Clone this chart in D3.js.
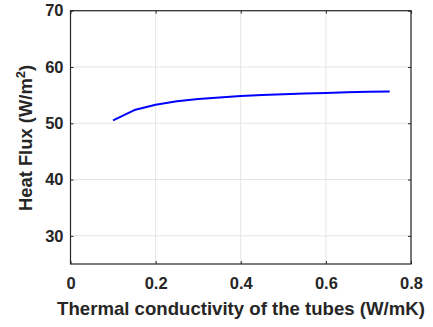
<!DOCTYPE html>
<html>
<head>
<meta charset="utf-8">
<script src="https://cdn.jsdelivr.net/npm/d3@7"></script>
<style>
  html, body { margin: 0; padding: 0; background: #fff; }
  svg { display: block; }
  text { font-family: "Liberation Sans", Arial, Helvetica, sans-serif; font-weight: bold; fill: #262626; }
</style>
</head>
<body>
<svg id="chart" width="433" height="327"></svg>
<script>
// Thermal conductivity of the tubes (W/mK)
const conductivity = [0.10, 0.15, 0.20, 0.25, 0.30, 0.35, 0.40, 0.45, 0.50, 0.55, 0.60, 0.65, 0.70, 0.75];
// Heat flux (W/m^2)
const heatFlux = [50.5, 52.35, 53.3, 53.9, 54.3, 54.6, 54.85, 55.02, 55.17, 55.3, 55.4, 55.5, 55.58, 55.65];
const xTicks = [0, 0.2, 0.4, 0.6, 0.8];
const yTicks = [30, 40, 50, 60, 70];

const svg = d3.select("#chart");
const plotL = 70.5, plotR = 411, plotT = 10.7, plotB = 264;

const x = d3.scaleLinear().domain([0, 0.8]).range([plotL, plotR]);
const y = d3.scaleLinear().domain([25, 70]).range([plotB, plotT]);

// grid
const grid = svg.append("g");
grid.selectAll(".gx").data(xTicks).join("line")
  .attr("x1", d => x(d)).attr("x2", d => x(d))
  .attr("y1", plotT).attr("y2", plotB)
  .attr("stroke", "#e5e5e5").attr("stroke-width", 1);
grid.selectAll(".gy").data(yTicks).join("line")
  .attr("x1", plotL).attr("x2", plotR)
  .attr("y1", d => y(d)).attr("y2", d => y(d))
  .attr("stroke", "#e5e5e5").attr("stroke-width", 1);

// axes with inward ticks
const xAxis = d3.axisBottom(x).tickValues(xTicks).tickSize(-3).tickPadding(13.5)
  .tickFormat(d => d === 0 ? "0" : d3.format(".1f")(d));
const xTop = d3.axisTop(x).tickValues(xTicks).tickSize(-3).tickFormat("");
const yAxis = d3.axisLeft(y).tickValues(yTicks).tickSize(-3).tickPadding(7);
const yRight = d3.axisRight(y).tickValues(yTicks).tickSize(-3).tickFormat("");

function style(g) {
  g.select(".domain").remove();
  g.selectAll(".tick line").attr("stroke", "#262626");
  g.selectAll(".tick text").style("font-size", "16.5px").attr("fill", "#262626");
}

svg.append("g").attr("transform", `translate(0,${plotB})`).call(xAxis).call(style);
svg.append("g").attr("transform", `translate(0,${plotT})`).call(xTop).call(style);
svg.append("g").attr("transform", `translate(${plotL},0)`).call(yAxis).call(style);
svg.append("g").attr("transform", `translate(${plotR},0)`).call(yRight).call(style);
svg.append("rect")
  .attr("x", plotL).attr("y", plotT).attr("width", plotR - plotL).attr("height", plotB - plotT)
  .attr("fill", "none").attr("stroke", "#262626").attr("stroke-width", 1.2);

// data line
const line = d3.line().x((d, i) => x(conductivity[i])).y(d => y(d));
svg.append("path").datum(heatFlux)
  .attr("d", line)
  .attr("fill", "none")
  .attr("stroke", "#0000ff")
  .attr("stroke-width", 2)
  .attr("stroke-linejoin", "round");

// axis labels
svg.append("text")
  .attr("x", 241).attr("y", 315)
  .attr("text-anchor", "middle")
  .style("font-size", "18.6px")
  .text("Thermal conductivity of the tubes (W/mK)");

const yl = svg.append("text")
  .attr("transform", `translate(32,138) rotate(-90)`)
  .attr("text-anchor", "middle")
  .style("font-size", "18.4px");
yl.append("tspan").text("Heat Flux (W/m");
yl.append("tspan").attr("dy", -7).style("font-size", "13px").text("2");
yl.append("tspan").attr("dy", 7).text(")");
</script>
</body>
</html>
